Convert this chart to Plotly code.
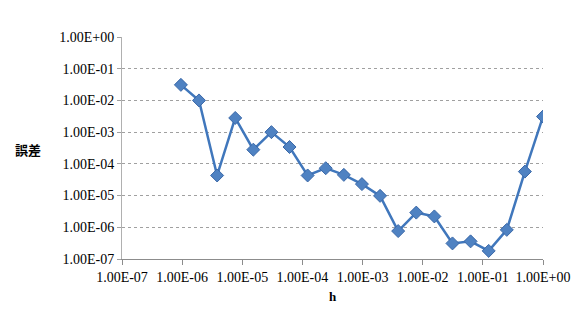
import plotly.graph_objects as go

h_values = [9.5367e-07, 1.9073e-06, 3.8147e-06, 7.6294e-06, 1.5259e-05, 3.0518e-05,
            6.1035e-05, 1.2207e-04, 2.4414e-04, 4.8828e-04, 9.7656e-04, 1.9531e-03,
            3.9063e-03, 7.8125e-03, 1.5625e-02, 3.1250e-02, 6.2500e-02, 1.2500e-01,
            2.5000e-01, 5.0000e-01, 1.0]
error_values = [3.1e-2, 1.0e-2, 4.3e-5, 2.8e-3, 2.8e-4, 1.0e-3, 3.4e-4, 4.3e-5, 7.3e-5,
                4.5e-5, 2.3e-5, 9.8e-6, 7.6e-7, 2.9e-6, 2.2e-6, 3.1e-7, 3.6e-7, 1.8e-7,
                8.3e-7, 5.7e-5, 3.1e-3]
tick_vals = [1e-7, 1e-6, 1e-5, 1e-4, 1e-3, 1e-2, 1e-1, 1e0]
tick_text = ["1.00E-07", "1.00E-06", "1.00E-05", "1.00E-04", "1.00E-03", "1.00E-02",
             "1.00E-01", "1.00E+00"]
x_title = "h"
y_title = "誤差"

serif = "Liberation Serif"

fig = go.Figure()
fig.add_trace(go.Scatter(
    x=h_values, y=error_values, mode="lines+markers",
    line=dict(color="#4077BC", width=2.5),
    marker=dict(symbol="diamond", size=10, color="#4F82C2",
                line=dict(color="#3A68A8", width=1)),
    showlegend=False,
))

fig.update_layout(
    width=583, height=315,
    margin=dict(l=122, r=40, t=37, b=56),
    paper_bgcolor="white", plot_bgcolor="white",
    font=dict(family=serif, size=14, color="#000000"),
    xaxis=dict(type="log", range=[-7, 0], tickvals=tick_vals, ticktext=tick_text,
               showgrid=False, zeroline=False, showline=True, linecolor="#8C8C8C",
               linewidth=1, ticks="outside", ticklen=5, tickcolor="#8C8C8C",
               tickfont=dict(family=serif, size=14)),
    yaxis=dict(type="log", range=[-7, 0], tickvals=tick_vals, ticktext=tick_text,
               showgrid=True, gridcolor="#A0A0A0", griddash="dot", gridwidth=1,
               zeroline=False, showline=True, linecolor="#B0B0B0", linewidth=1,
               ticks="outside", ticklen=4, tickcolor="#A0A0A0",
               tickfont=dict(family=serif, size=14)),
)

fig.add_annotation(text="<b>" + y_title + "</b>", xref="paper", yref="paper", x=-0.223,
                   y=0.495, xanchor="center", yanchor="middle", showarrow=False,
                   font=dict(family="Noto Sans CJK JP", size=13, color="#000000"))
fig.add_annotation(text="<b>" + x_title + "</b>", xref="paper", yref="paper", x=0.5,
                   y=-0.167, xanchor="center", yanchor="middle", showarrow=False,
                   font=dict(family=serif, size=13, color="#000000"))

fig.write_html("out.html")
